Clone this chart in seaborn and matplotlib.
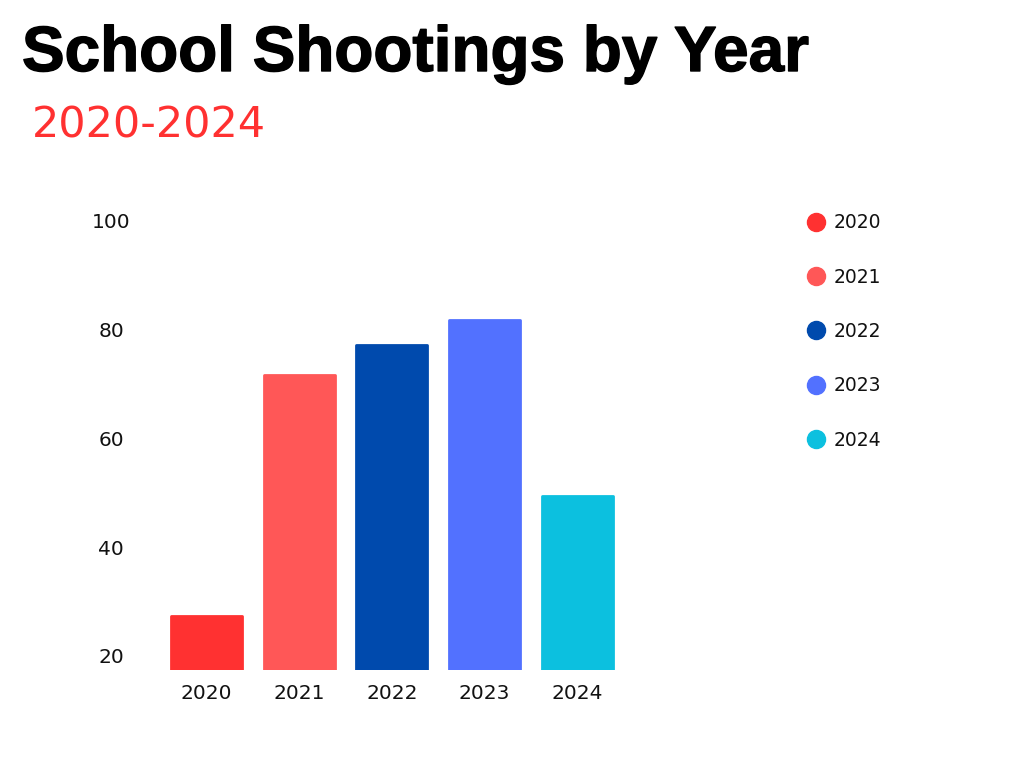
import matplotlib
matplotlib.use("Agg")
import matplotlib.pyplot as plt
import matplotlib.patheffects as pe
from matplotlib.lines import Line2D
from matplotlib.transforms import offset_copy
import seaborn as sns
import pandas as pd

years = ["2020", "2021", "2022", "2023", "2024"]
shootings = [27.3, 71.6, 77.2, 81.7, 49.5]
colors = ["#FF3131", "#FF5757", "#004AAD", "#5271FF", "#0CC0DF"]
y_ticks = [20, 40, 60, 80, 100]

df = pd.DataFrame({"year": years, "count": shootings})

sns.set_theme(style="white")
plt.rcParams["font.family"] = ["DejaVu Sans"]

fig = plt.figure(figsize=(10.24, 7.68), dpi=100)
W, H = 1024, 768
# axes placed in pixel terms
x0, x1 = 160.0, 623.8
ybot, ytop = 670.0, 221.0
ax = fig.add_axes([x0 / W, (H - ybot) / H, (x1 - x0) / W, (ybot - ytop) / H])

sns.barplot(data=df, x="year", y="count", hue="year", palette=colors,
            width=0.765, legend=False, ax=ax, saturation=1)
for p, c in zip(ax.patches, colors):
    p.set_edgecolor(c)
    p.set_linewidth(2)
    p.set_joinstyle("round")

ax.set_xlim(-0.5, 4.5)
ax.set_ylim(17.4, 100)
ax.set_yticks(y_ticks)
ax.set_yticklabels([str(t) for t in y_ticks], fontsize=14.5, color="#111111")
ax.tick_params(axis="y", length=0)
ax.tick_params(axis="x", length=0, pad=10, labelsize=14.5, labelcolor="#111111")
ax.set_xlabel("")
ax.set_ylabel("")
sns.despine(ax=ax, left=True, bottom=True)

# y labels centred around x~110px
for lbl in ax.get_yticklabels():
    lbl.set_horizontalalignment("center")
    lbl.set_transform(offset_copy(ax.get_yaxis_transform(), fig=fig,
                                  x=-(x0 - 111), y=0, units="dots"))

handles = [Line2D([], [], marker="o", linestyle="", markersize=13,
                  markerfacecolor=c, markeredgecolor=c) for c in colors]
fig.legend(handles, years, loc="upper left", bbox_to_anchor=(797 / W, (H - 206) / H),
           frameon=False, fontsize=13.5, labelspacing=1.88, handletextpad=0.35,
           handlelength=1.2, borderaxespad=0, labelcolor="#111111")

title = fig.text(22 / W, (H - 71) / H, "School Shootings by Year", fontsize=46,
                 fontweight="bold", family=["Liberation Sans", "DejaVu Sans"], color="black")
title.set_path_effects([pe.withStroke(linewidth=1.0, foreground="black")])
fig.text(32 / W, (H - 137) / H, "2020-2024", fontsize=31,
         family=["DejaVu Sans"], color="#FF3131")

fig.savefig("out.png", dpi=100, facecolor="white")
